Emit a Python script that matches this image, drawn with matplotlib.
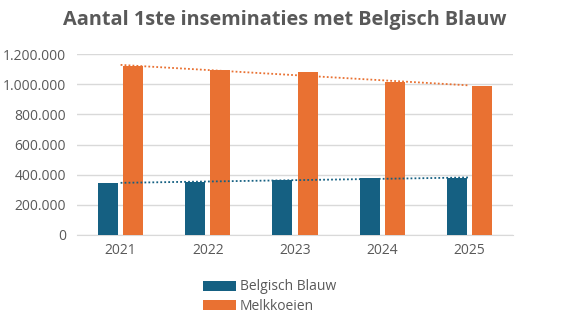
import matplotlib.pyplot as plt
import numpy as np

# values
years = ['2021', '2022', '2023', '2024', '2025']
belgisch_blauw = [346000, 350000, 366000, 381000, 375000]
melkkoeien = [1118000, 1096000, 1083000, 1012000, 990000]

blue = '#156082'
orange = '#E97132'
grey = '#595959'

plt.rcParams['font.family'] = ['Open Sans', 'DejaVu Sans']

fig = plt.figure(figsize=(5.78, 3.28), dpi=100)
ax = fig.add_axes([77 / 578, 1 - 235 / 328, (513 - 77) / 578, (235 - 54) / 328])

x = np.arange(len(years))
w = 0.23
off = 0.145
ax.bar(x - off, belgisch_blauw, w, color=blue, label='Belgisch Blauw', zorder=3)
ax.bar(x + off, melkkoeien, w, color=orange, label='Melkkoeien', zorder=3)

# linear trendlines, as Excel draws them
for vals, c in [(belgisch_blauw, blue), (melkkoeien, orange)]:
    k, b = np.polyfit(x, vals, 1)
    ax.plot(x, k * x + b, linestyle=(0, (1, 1.2)), color=c, lw=1.3, zorder=4)

ax.set_xlim(-0.5, len(years) - 0.5)
ax.set_ylim(0, 1200000)
ax.set_yticks(range(0, 1200001, 200000))
ax.set_yticklabels([f'{v:,}'.replace(',', '.') for v in range(0, 1200001, 200000)])
ax.set_xticks(x)
ax.set_xticklabels(years)
ax.grid(axis='y', color='#d9d9d9', lw=1, zorder=0)
for s in ['top', 'right', 'left']:
    ax.spines[s].set_visible(False)
ax.spines['bottom'].set_color('#d9d9d9')
ax.tick_params(length=0, colors=grey, labelsize=10, pad=6)
ax.tick_params(axis='y', pad=8)

fig.text(0.5 - 4 / 578, 1 - 20 / 328, 'Aantal 1ste inseminaties met Belgisch Blauw',
         ha='center', va='center', fontsize=14.3, fontweight='bold', color=grey)

handles, labels = ax.get_legend_handles_labels()
leg = fig.legend(handles, labels, loc='upper left', bbox_to_anchor=(190 / 578, 1 - 267 / 328),
                 frameon=False, fontsize=10, handlelength=2.4, handleheight=0.7,
                 labelspacing=0.3, handletextpad=0.3, labelcolor=grey)

fig.savefig('out.png', dpi=100)
